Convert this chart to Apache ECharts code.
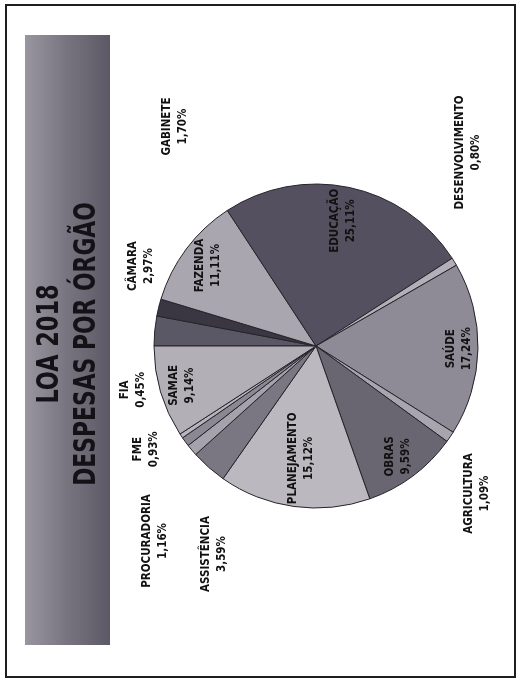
<!DOCTYPE html>
<html><head><meta charset="utf-8">
<script src="https://cdn.jsdelivr.net/npm/echarts@6/dist/echarts.min.js"></script>
<style>
html,body{margin:0;padding:0;background:#fff;overflow:hidden;width:523px;height:684px;}
#stage{position:absolute;left:0;top:0;width:684px;height:523px;transform-origin:0 0;transform:translate(0,684px) rotate(-90deg);}
</style></head><body>
<div id="stage"></div>
<script>
// ---- data ----
const categories = ['CÂMARA','GABINETE','FAZENDA','EDUCAÇÃO','DESENVOLVIMENTO','SAÚDE','AGRICULTURA','OBRAS','PLANEJAMENTO','ASSISTÊNCIA','PROCURADORIA','FME','FIA','SAMAE'];
const shares = [2.97, 1.70, 11.11, 25.11, 0.80, 17.24, 1.09, 9.59, 15.12, 3.59, 1.16, 0.93, 0.45, 9.14];
const titleLines = ['LOA 2018', 'DESPESAS POR ÓRGÃO'];

// ---- styles ----
const sliceColors = ['#5b5865','#3a3742','#aaa6b0','#55505f','#b3afb8','#8f8b96','#a9a5ae','#6a6671','#bcb8c0','#7a7682','#a6a2ab','#8c8893','#b8b4bc','#b3afb7'];
const FONT = "'Liberation Sans Narrow','DejaVu Sans Condensed','Liberation Sans',sans-serif";
const CX = 338, CY = 316, R = 162;
// labels inside the slices: distance from centre as a share of the radius
const innerReach = {'FAZENDA':0.83,'EDUCAÇÃO':0.79,'SAÚDE':0.88,'OBRAS':0.85,'PLANEJAMENTO':0.70,'SAMAE':0.86};
// labels outside the pie: [angle clockwise from 12 o'clock, distance as share of radius]
const outerSpots = {'GABINETE':[57.3,1.61],'DESENVOLVIMENTO':[128.2,1.52],'CÂMARA':[24.6,1.185],'FIA':[346.5,1.16],'FME':[328.8,1.23],'PROCURADORIA':[309.5,1.56],'ASSISTÊNCIA':[296.1,1.43],'AGRICULTURA':[222.4,1.35]};

const fmt = v => v.toFixed(2).replace('.', ',') + '%';

const chart = echarts.init(document.getElementById('stage'), null, {renderer:'canvas', width:684, height:523});
const titleStyle = {font: "bold 30px " + FONT, fill: '#141217', align: 'center', verticalAlign: 'middle'};
chart.setOption({
  animation: false,
  backgroundColor: '#ffffff',
  graphic: [
    {type:'rect', z:-10, shape:{x:7, y:6, width:672, height:509}, style:{fill:'none', stroke:'#1e1e1e', lineWidth:2}},
    {type:'rect', z:-5, shape:{x:39, y:25, width:610, height:85},
     style:{fill: new echarts.graphic.LinearGradient(0,0,0,1,[{offset:0,color:'#9a96a0'},{offset:0.5,color:'#78747f'},{offset:1,color:'#5c5865'}])}},
    {type:'text', z:5, x:340, y:50, scaleX:0.83, style:Object.assign({text:titleLines[0]}, titleStyle)},
    {type:'text', z:5, x:340, y:87, scaleX:0.81, style:Object.assign({text:titleLines[1]}, titleStyle)}
  ],
  series: [{
    type: 'pie',
    center: [CX, CY],
    radius: R,
    startAngle: 90,
    clockwise: true,
    avoidLabelOverlap: false,
    data: categories.map((c, i) => ({name: c, value: shares[i], itemStyle: {color: sliceColors[i]}})),
    itemStyle: {borderColor: '#26242b', borderWidth: 1},
    label: {
      show: true, position: 'inside',
      formatter: p => p.name + '\n' + fmt(p.value),
      fontFamily: FONT, fontSize: 11.5, fontWeight: 'bold', lineHeight: 16, color: '#111', align: 'center'
    },
    labelLine: {show: false},
    labelLayout: function (p) {
      const name = categories[p.dataIndex];
      const lr = p.labelRect;
      let ang, reach;
      if (outerSpots[name]) {
        ang = outerSpots[name][0] * Math.PI / 180; reach = outerSpots[name][1];
      } else {
        const mx = lr.x + lr.width / 2 - CX, my = lr.y + lr.height / 2 - CY;
        ang = Math.atan2(mx, -my); reach = innerReach[name] || 0.82;
      }
      return {x: CX + R * reach * Math.sin(ang), y: CY - R * reach * Math.cos(ang), align: 'center', verticalAlign: 'middle'};
    },
    emphasis: {disabled: true}
  }]
});
</script>
</body></html>
